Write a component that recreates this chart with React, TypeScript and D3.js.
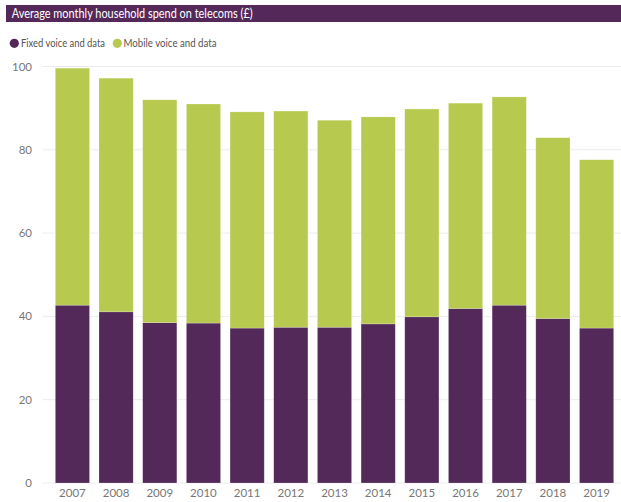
import React from "react";
import * as d3 from "d3";

const years = ["2007","2008","2009","2010","2011","2012","2013","2014","2015","2016","2017","2018","2019"];
const fixed = [42.7,41.1,38.5,38.4,37.2,37.4,37.4,38.2,39.9,41.9,42.7,39.5,37.2];
const mobile = [56.9,56.1,53.5,52.6,51.9,51.9,49.7,49.7,49.9,49.3,50.0,43.4,40.4];
const yTicks = [0,20,40,60,80,100];
const seriesNames = ["Fixed voice and data","Mobile voice and data"];
const colors = ["#532959","#b7c94f"];

const W = 621, H = 502;
const FONT = "Lato, 'Noto Sans', sans-serif";

export default function App() {
  const step = (575.3 - 60) / 12;
  const bw = 33.6;
  const xs = d3.scaleBand<string>().domain(years)
    .range([60 - (step - bw) / 2, 609 + (step - bw) / 2])
    .paddingInner((step - bw) / step).paddingOuter(0);
  const y = d3.scaleLinear().domain([0, 100]).range([483, 66.5]);
  const rows = years.map((yr, i) => ({ year: yr, fixed: fixed[i], mobile: mobile[i] }));
  const stack = d3.stack<any>().keys(["fixed", "mobile"])(rows);

  return (
    <svg width={W} height={H} style={{ position: "absolute", left: 0, top: 0, background: "#fff" }} fontFamily={FONT}>
      <rect x={6} y={5} width={W - 6} height={17} fill="#54295a" />
      <text x={11.7} y={18} fill="#fff" fontSize={13} textLength={241} lengthAdjust="spacingAndGlyphs">Average monthly household spend on telecoms (£)</text>

      <circle cx={14.3} cy={43.3} r={4.6} fill={colors[0]} />
      <text x={21} y={47} fontSize={11} fill="#555" textLength={84} lengthAdjust="spacingAndGlyphs">{seriesNames[0]}</text>
      <circle cx={117.3} cy={43.3} r={4.6} fill={colors[1]} />
      <text x={123.5} y={47} fontSize={11} fill="#555" textLength={93} lengthAdjust="spacingAndGlyphs">{seriesNames[1]}</text>

      {yTicks.map(t => (
        <g key={t}>
          <line x1={42.5} x2={W} y1={y(t)} y2={y(t)} stroke="#ececec" strokeWidth={1} />
          <text x={32} y={y(t) + 4} textAnchor="end" fontSize={11.5} fill="#777">{t}</text>
        </g>
      ))}

      {stack.map((s, si) => (
        <g key={si} fill={colors[si]}>
          {s.map((d, i) => (
            <rect key={i} x={xs(years[i])!} width={xs.bandwidth()} y={y(d[1])} height={y(d[0]) - y(d[1])}
              stroke="#ffffff" strokeOpacity={0.35} strokeWidth={0.6} />
          ))}
        </g>
      ))}

      {years.map(yr => (
        <text key={yr} x={xs(yr)! + xs.bandwidth() / 2} y={497} textAnchor="middle" fontSize={11.5} fill="#777">{yr}</text>
      ))}
    </svg>
  );
}
